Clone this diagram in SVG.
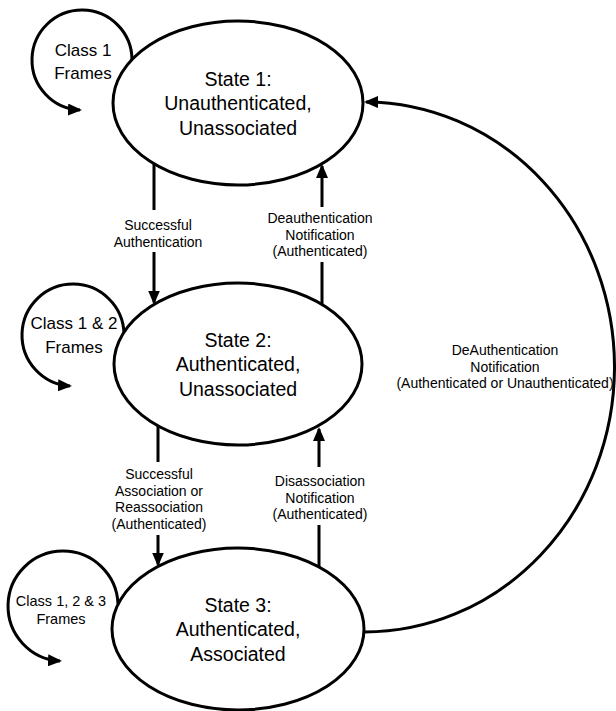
<svg xmlns="http://www.w3.org/2000/svg" width="616" height="711" viewBox="0 0 616 711">
  <style>
    .state { fill: #ffffff; stroke: #000000; stroke-width: 3; }
    .conn { fill: none; stroke: #000000; stroke-width: 3; marker-end: url(#arrow); }
    text { font-family: "Liberation Sans", Arial, sans-serif; fill: #000000; text-anchor: middle; }
    .st { font-size: 19.5px; }
    .loop { font-size: 17px; }
    .loop3 { font-size: 14.5px; }
    .lbl { font-size: 14px; }
  </style>
  <defs>
    <marker id="arrow" markerUnits="userSpaceOnUse" markerWidth="14" markerHeight="12" viewBox="0 0 14 12" refX="12" refY="6" orient="auto">
      <path d="M0,0 L14,6 L0,12 z" fill="#000000"/>
    </marker>
  </defs>

  <g id="connectors">
    <path id="loop1" class="conn" d="M132 60 A50 50 0 1 0 80 110"/>
    <path id="loop2" class="conn" d="M124 334 A51 51 0 1 0 70 386"/>
    <path id="loop3" class="conn" d="M118 604 A55 55 0 1 0 60 661"/>
    <path id="s1-s2" class="conn" d="M154 163 V210 M154 252 V302.5"/>
    <path id="s2-s1" class="conn" d="M322 304 V262 M322 207 V166"/>
    <path id="s2-s3" class="conn" d="M158 426 V462 M158 535 V564.5"/>
    <path id="s3-s2" class="conn" d="M319 567 V525 M319 467 V429"/>
    <path id="s3-s1" class="conn" d="M363 632 A250 265 0 0 0 366 102"/>
  </g>

  <g id="state1">
    <ellipse class="state" cx="238" cy="103" rx="125" ry="82"/>
    <text class="st" x="238" y="85.5">State 1:</text>
    <text class="st" x="238" y="110">Unauthenticated,</text>
    <text class="st" x="238" y="134.5">Unassociated</text>
  </g>

  <g id="state2">
    <ellipse class="state" cx="238" cy="364" rx="124" ry="81"/>
    <text class="st" x="238" y="346.5">State 2:</text>
    <text class="st" x="238" y="371">Authenticated,</text>
    <text class="st" x="238" y="395.5">Unassociated</text>
  </g>

  <g id="state3">
    <ellipse class="state" cx="238" cy="629" rx="126" ry="81"/>
    <text class="st" x="238" y="611.5">State 3:</text>
    <text class="st" x="238" y="636">Authenticated,</text>
    <text class="st" x="238" y="660.5">Associated</text>
  </g>

  <g id="labels">
    <g id="label-loop1">
      <text class="loop" x="83" y="56">Class 1</text>
      <text class="loop" x="83" y="79">Frames</text>
    </g>
    <g id="label-loop2">
      <text class="loop" x="74" y="329">Class 1 &amp; 2</text>
      <text class="loop" x="74" y="352.5">Frames</text>
    </g>
    <g id="label-loop3">
      <text class="loop3" x="61" y="606">Class 1, 2 &amp; 3</text>
      <text class="loop3" x="61" y="623.5">Frames</text>
    </g>
    <g id="label-s1-s2">
      <text class="lbl" x="158" y="229.5">Successful</text>
      <text class="lbl" x="158" y="246.5">Authentication</text>
    </g>
    <g id="label-s2-s1">
      <text class="lbl" x="320" y="223">Deauthentication</text>
      <text class="lbl" x="320" y="239.5">Notification</text>
      <text class="lbl" x="320" y="256">(Authenticated)</text>
    </g>
    <g id="label-s2-s3">
      <text class="lbl" x="159" y="479">Successful</text>
      <text class="lbl" x="159" y="495.5">Association or</text>
      <text class="lbl" x="159" y="512">Reassociation</text>
      <text class="lbl" x="159" y="528.5">(Authenticated)</text>
    </g>
    <g id="label-s3-s2">
      <text class="lbl" x="320" y="486">Disassociation</text>
      <text class="lbl" x="320" y="502.5">Notification</text>
      <text class="lbl" x="320" y="519">(Authenticated)</text>
    </g>
    <g id="label-s3-s1">
      <text class="lbl" x="505" y="355">DeAuthentication</text>
      <text class="lbl" x="505" y="371.5">Notification</text>
      <text class="lbl" x="505" y="388">(Authenticated or Unauthenticated)</text>
    </g>
  </g>
</svg>
